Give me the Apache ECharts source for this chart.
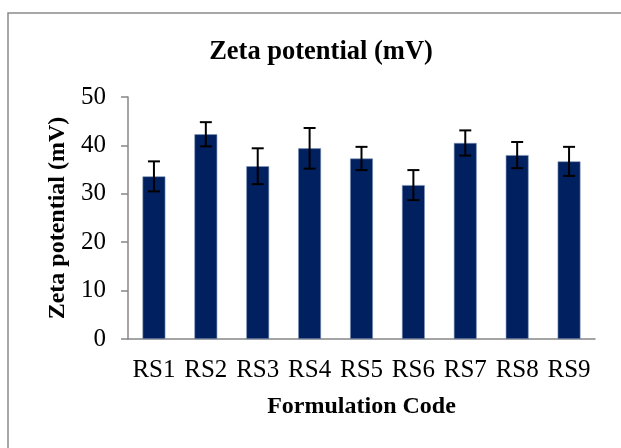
<!DOCTYPE html>
<html>
<head>
<meta charset="utf-8">
<script src="https://cdn.jsdelivr.net/npm/echarts@6/dist/echarts.min.js"></script>
<style>
  html, body { margin: 0; padding: 0; background: #fff; }
  #chart { width: 621px; height: 448px; }
</style>
</head>
<body>
<div id="chart"></div>
<script>
// Zeta potential per formulation, mean and standard deviation (mV)
const categories = ['RS1', 'RS2', 'RS3', 'RS4', 'RS5', 'RS6', 'RS7', 'RS8', 'RS9'];
const zetaMean = [33.6, 42.3, 35.7, 39.4, 37.3, 31.8, 40.5, 38.0, 36.7];
const zetaSD = [3.1, 2.5, 3.7, 4.2, 2.4, 3.1, 2.6, 2.7, 3.0];
const yTicks = { min: 0, max: 50, interval: 10 };

const serif = '"Liberation Serif", "Times New Roman", serif';
const axisGrey = '#868686';

const errorData = categories.map((c, i) => [i, zetaMean[i] - zetaSD[i], zetaMean[i] + zetaSD[i]]);

const chart = echarts.init(document.getElementById('chart'));
chart.setOption({
  animation: false,
  backgroundColor: '#fff',
  title: {
    text: 'Zeta potential (mV)',
    left: 316,
    top: 34,
    textAlign: 'center',
    textStyle: { fontFamily: serif, fontWeight: 'bold', fontSize: 26.5, color: '#000' }
  },
  graphic: [{
    type: 'rect',
    shape: { x: 8, y: 13, width: 700, height: 600 },
    style: { fill: 'none', stroke: '#8a8a8a', lineWidth: 1.5 },
    silent: true
  }],
  grid: { left: 128, right: 26, top: 97, bottom: 109 },
  xAxis: {
    type: 'category',
    data: categories,
    name: 'Formulation Code',
    nameLocation: 'middle',
    nameGap: 56,
    nameTextStyle: { fontFamily: serif, fontWeight: 'bold', fontSize: 24, color: '#000' },
    axisLine: { lineStyle: { color: axisGrey, width: 1.5 } },
    axisTick: { length: 6, lineStyle: { color: axisGrey, width: 1.5 } },
    axisLabel: { margin: 19, fontFamily: serif, fontSize: 25, color: '#000', interval: 0 }
  },
  yAxis: {
    type: 'value',
    min: yTicks.min,
    max: yTicks.max,
    interval: yTicks.interval,
    name: 'Zeta potential (mV)',
    nameLocation: 'middle',
    nameGap: 58,
    nameTextStyle: { fontFamily: serif, fontWeight: 'bold', fontSize: 24, color: '#000' },
    splitLine: { show: false },
    axisLine: { show: true, lineStyle: { color: axisGrey, width: 1.5 } },
    axisTick: { show: true, length: 7, lineStyle: { color: axisGrey, width: 1.5 } },
    axisLabel: { margin: 22, fontFamily: serif, fontSize: 25, color: '#000' }
  },
  series: [
    {
      type: 'bar',
      data: zetaMean,
      barWidth: '44%',
      itemStyle: { color: '#002060', borderColor: '#8093b5', borderWidth: 0.6 }
    },
    {
      type: 'custom',
      data: errorData,
      z: 10,
      renderItem: function (params, api) {
        const x = api.value(0);
        const lo = api.coord([x, api.value(1)]);
        const hi = api.coord([x, api.value(2)]);
        const half = 6;
        const style = { stroke: '#000', lineWidth: 2 };
        return {
          type: 'group',
          children: [
            { type: 'line', shape: { x1: lo[0], y1: lo[1], x2: hi[0], y2: hi[1] }, style: style },
            { type: 'line', shape: { x1: lo[0] - half, y1: lo[1], x2: lo[0] + half, y2: lo[1] }, style: style },
            { type: 'line', shape: { x1: hi[0] - half, y1: hi[1], x2: hi[0] + half, y2: hi[1] }, style: style }
          ]
        };
      }
    }
  ]
});
</script>
</body>
</html>
